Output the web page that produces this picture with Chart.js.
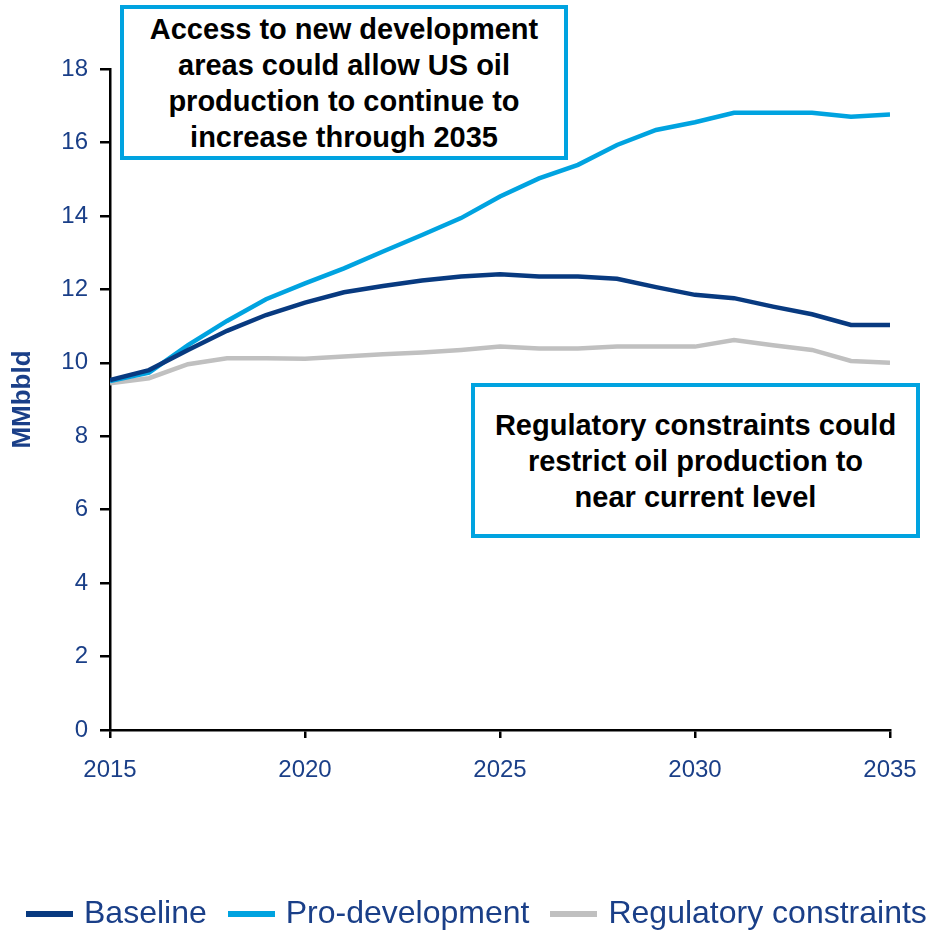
<!DOCTYPE html>
<html>
<head>
<meta charset="utf-8">
<script src="https://cdn.jsdelivr.net/npm/chart.js@4.4.0/dist/chart.umd.min.js"></script>
<style>
  html, body { margin: 0; padding: 0; background: #fff; overflow: hidden; }
  #wrap { position: relative; width: 936px; height: 937px; overflow: hidden; }
  .note {
    position: absolute;
    box-sizing: border-box;
    border: 4px solid #00a3e0;
    background: #fff;
    font-family: "Liberation Sans", Arial, sans-serif;
    font-weight: bold;
    font-size: 29px;
    line-height: 36px;
    color: #000;
    text-align: center;
    display: flex;
    align-items: center;
    justify-content: center;
  }
  #legend {
    position: absolute;
    left: 26px;
    top: 892px;
    height: 40px;
    display: flex;
    align-items: center;
    font-family: "Liberation Sans", Arial, sans-serif;
    font-size: 32px;
    color: #1a3f88;
    white-space: nowrap;
  }
  #legend .item { display: flex; align-items: center; margin-right: 21px; }
  #legend .swatch { width: 47px; height: 6px; margin-right: 11px; margin-top: 4px; }
</style>
</head>
<body>
<div id="wrap">
  <canvas id="oilChart" width="936" height="937"></canvas>
  <div class="note" style="left:120px; top:5px; width:448px; height:155px;">Access to new development<br>areas could allow US oil<br>production to continue to<br>increase through 2035</div>
  <div class="note" style="left:471px; top:383px; width:449px; height:155px;">Regulatory constraints could<br>restrict oil production to<br>near current level</div>
  <div id="legend"></div>
</div>
<script>
const years = [2015, 2016, 2017, 2018, 2019, 2020, 2021, 2022, 2023, 2024, 2025,
               2026, 2027, 2028, 2029, 2030, 2031, 2032, 2033, 2034, 2035];
const baseline = [9.53, 9.80, 10.35, 10.87, 11.30, 11.64, 11.92, 12.09, 12.24, 12.35, 12.41,
                  12.35, 12.35, 12.29, 12.06, 11.85, 11.76, 11.53, 11.32, 11.03, 11.03];
const proDevelopment = [9.50, 9.73, 10.48, 11.14, 11.73, 12.16, 12.57, 13.03, 13.48, 13.94, 14.53,
                        15.02, 15.39, 15.93, 16.34, 16.55, 16.81, 16.81, 16.81, 16.70, 16.76];
const regulatory = [9.44, 9.58, 9.96, 10.12, 10.12, 10.11, 10.17, 10.23, 10.28, 10.35, 10.44,
                    10.39, 10.39, 10.44, 10.44, 10.44, 10.62, 10.48, 10.35, 10.05, 10.00];
const yTicks = [0, 2, 4, 6, 8, 10, 12, 14, 16, 18];
const xTicks = [2015, 2020, 2025, 2030, 2035];

const navy = '#1a3f88';
const fontFamily = '"Liberation Sans", Arial, sans-serif';
const toPoints = arr => arr.map((v, i) => ({ x: years[i], y: v }));

const ctx = document.getElementById('oilChart').getContext('2d');
const oilChart = new Chart(ctx, {
    type: 'line',
    data: {
        datasets: [
            { label: 'Baseline', data: toPoints(baseline), borderColor: '#083a80', borderWidth: 4.5 },
            { label: 'Pro-development', data: toPoints(proDevelopment), borderColor: '#00a3e0', borderWidth: 4.5 },
            { label: 'Regulatory constraints', data: toPoints(regulatory), borderColor: '#c0c0c0', borderWidth: 4.5 }
        ]
    },
    options: {
        responsive: false,
        animation: false,
        elements: { point: { radius: 0 }, line: { tension: 0 } },
        layout: { padding: { left: 0, right: 46, top: 69, bottom: 0 } },
        plugins: {
            tooltip: { enabled: false },
            legend: { display: false }
        },
        scales: {
            x: {
                type: 'linear',
                min: 2015,
                max: 2035,
                afterBuildTicks: axis => { axis.ticks = xTicks.map(v => ({ value: v })); },
                afterFit: axis => { axis.height = 207; },
                border: { color: '#000', width: 2.5 },
                grid: { drawOnChartArea: false, drawTicks: true, tickLength: 8, color: '#000', lineWidth: 2.5 },
                ticks: {
                    color: navy,
                    padding: 18,
                    maxRotation: 0,
                    font: { family: fontFamily, size: 24 },
                    callback: v => String(v)
                }
            },
            y: {
                min: 0,
                max: 18,
                afterBuildTicks: axis => { axis.ticks = yTicks.map(v => ({ value: v })); },
                afterFit: axis => { axis.width = 110; },
                border: { color: '#000', width: 2.5 },
                grid: { drawOnChartArea: false, drawTicks: true, tickLength: 10, color: '#000', lineWidth: 2.5 },
                title: {
                    display: true,
                    text: 'MMbbld',
                    color: navy,
                    padding: { top: 7, bottom: 0 },
                    font: { family: fontFamily, size: 26, weight: 'bold' }
                },
                ticks: {
                    color: navy,
                    padding: 12,
                    font: { family: fontFamily, size: 24 }
                }
            }
        }
    }
});

// legend built from the chart's datasets
const legendEl = document.getElementById('legend');
oilChart.data.datasets.forEach(ds => {
    const item = document.createElement('div');
    item.className = 'item';
    const sw = document.createElement('span');
    sw.className = 'swatch';
    sw.style.background = ds.borderColor;
    const txt = document.createElement('span');
    txt.textContent = ds.label;
    item.appendChild(sw);
    item.appendChild(txt);
    legendEl.appendChild(item);
});
</script>
</body>
</html>
